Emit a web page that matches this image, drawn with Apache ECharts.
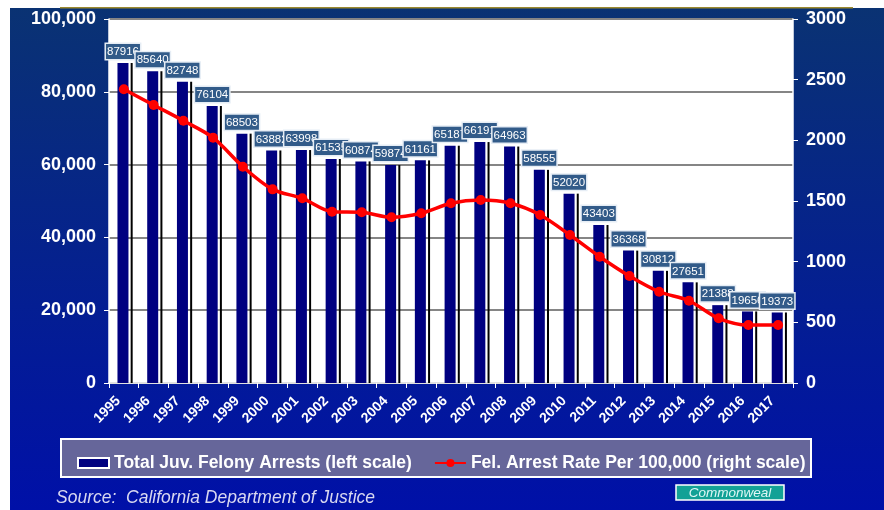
<!DOCTYPE html>
<html>
<head>
<meta charset="utf-8">
<script src="https://cdn.jsdelivr.net/npm/echarts@6/dist/echarts.min.js"></script>
<style>html,body{margin:0;padding:0;background:#fff;}#c{width:884px;height:510px;}</style>
</head>
<body>
<div id="c"></div>
<script>
const years = ['1995','1996','1997','1998','1999','2000','2001','2002','2003','2004','2005','2006','2007','2008','2009','2010','2011','2012','2013','2014','2015','2016','2017'];
const arrests = [87916,85640,82748,76104,68503,63882,63998,61535,60874,59874,61161,65187,66191,64963,58555,52020,43403,36368,30812,27651,21388,19656,19373];
const arrestRate = [2421,2291,2162,2022,1783,1596,1522,1412,1407,1366,1399,1481,1508,1481,1385,1220,1041,882,752,678,533,478,478];
const leftTicks = {min:0, max:100000, interval:20000};
const rightTicks = {min:0, max:3000, interval:500};
const barName = 'Total Juv. Felony Arrests (left scale)';
const lineName = 'Fel. Arrest Rate Per 100,000 (right scale)';

const FONT = 'Liberation Sans, Arial, sans-serif';
const chart = echarts.init(document.getElementById('c'));
const option = {
  animation: false,
  backgroundColor: new echarts.graphic.LinearGradient(0,0,0,1,[{offset:0,color:'#0a3372'},{offset:1,color:'#0010a8'}]),
  grid: {left:109, right:91, top:19, bottom:127, show:true, backgroundColor:'#ffffff', borderWidth:0},
  graphic: [
    {type:'rect', shape:{x:0,y:0,width:884,height:8}, style:{fill:'#ffffff'}, silent:true},
    {type:'rect', shape:{x:0,y:0,width:10,height:510}, style:{fill:'#ffffff'}, silent:true},
    {type:'rect', shape:{x:60,y:7,width:793,height:1.5}, style:{fill:'#9c8a2e'}, silent:true},
    {type:'rect', shape:{x:61,y:439,width:750,height:38}, style:{fill:'#66669a', stroke:'#ffffff', lineWidth:2}, silent:true},
    {type:'text', left:56, top:489, style:{text:'Source:  California Department of Justice', fill:'#d8d8f0', font:'italic 17.5px Liberation Sans, Arial, sans-serif'}, silent:true},
    {type:'rect', shape:{x:676,y:485,width:108,height:15}, style:{fill:'#12a196', stroke:'#ffffff', lineWidth:1.5}, silent:true},
    {type:'text', x:730, y:493, style:{text:'Commonweal', fill:'#dff7f5', font:'italic 13.5px Liberation Sans, Arial, sans-serif', align:'center', verticalAlign:'middle'}, silent:true}
  ],
  legend: {
    left:72, top:449, itemGap:22, itemWidth:31, itemHeight:10,
    textStyle:{color:'#ffffff', fontWeight:'bold', fontSize:17.5, fontFamily:FONT},
    data:[
      {name:barName, icon:'rect', itemStyle:{color:'#000080', borderColor:'#ffffff', borderWidth:2}},
      {name:lineName}
    ]
  },
  xAxis: {
    type:'category', data:years, boundaryGap:true,
    axisLine:{show:true, lineStyle:{color:'#ffffff', width:1.5}},
    axisTick:{show:true, length:5, lineStyle:{color:'#ffffff'}},
    axisLabel:{interval:0, rotate:45, color:'#ffffff', fontWeight:'bold', fontSize:14, fontFamily:FONT, margin:10, padding:[0,8,0,0]}
  },
  yAxis: [
    {type:'value', min:leftTicks.min, max:leftTicks.max, interval:leftTicks.interval, position:'left',
     axisLine:{show:true, lineStyle:{color:'#ffffff', width:1.5}},
     axisTick:{show:true, length:5, lineStyle:{color:'#ffffff'}},
     axisLabel:{color:'#ffffff', fontWeight:'bold', fontSize:18, fontFamily:FONT, margin:13,
       formatter:function(v){return v.toLocaleString('en-US');}},
     splitLine:{show:true, lineStyle:{color:'#858585', width:2}}},
    {type:'value', min:rightTicks.min, max:rightTicks.max, interval:rightTicks.interval, position:'right',
     axisLine:{show:true, lineStyle:{color:'#ffffff', width:1.5}},
     axisTick:{show:true, length:5, lineStyle:{color:'#ffffff'}},
     axisLabel:{color:'#ffffff', fontWeight:'bold', fontSize:18, fontFamily:FONT, margin:13,
       formatter:function(v){return String(v);}},
     splitLine:{show:false}}
  ],
  series: [
    {name:'spacer', type:'bar', data:arrests, barWidth:2, barGap:'20%', itemStyle:{color:'rgba(0,0,0,0)'}, silent:true},
    {name:barName, type:'bar', data:arrests, barWidth:11, barGap:'20%', itemStyle:{color:'#000080'},
     label:{show:true, position:'top', distance:4, color:'#ffffff', fontSize:11.5, fontFamily:FONT,
       backgroundColor:'#325b89', borderColor:'#e6edf5', borderWidth:1.5, padding:[2,1,1,1]}},
    {name:'shadow', type:'bar', data:arrests, barWidth:2, barGap:'20%', itemStyle:{color:'#000000'}, silent:true},
    {name:lineName, type:'line', yAxisIndex:1, data:arrestRate, smooth:0.3, symbol:'circle', symbolSize:10,
     lineStyle:{color:'#ff0000', width:3.5}, itemStyle:{color:'#ff0000'}, z:5}
  ]
};
chart.setOption(option);
</script>
</body>
</html>
